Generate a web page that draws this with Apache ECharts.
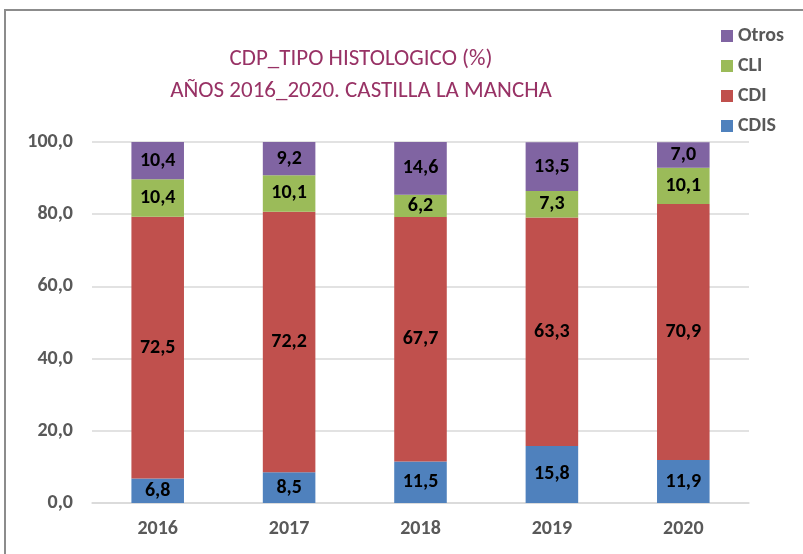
<!DOCTYPE html>
<html>
<head>
<meta charset="utf-8">
<script src="https://cdn.jsdelivr.net/npm/echarts@6/dist/echarts.min.js"></script>
<style>
  html, body { margin: 0; padding: 0; background: #fff; }
  #chart { width: 803px; height: 554px; }
</style>
</head>
<body>
<div id="chart"></div>
<script>
const years = ['2016', '2017', '2018', '2019', '2020']
const cdis = [6.8, 8.5, 11.5, 15.8, 11.9]
const cdi = [72.5, 72.2, 67.7, 63.3, 70.9]
const cli = [10.4, 10.1, 6.2, 7.3, 10.1]
const otros = [10.4, 9.2, 14.6, 13.5, 7.0]

const font = 'Calibri, Carlito, Lato, "Open Sans", sans-serif'
const fmt = v => Number(v).toFixed(1).replace('.', ',')

function bar(name, data, color) {
  return {
    name: name,
    type: 'bar',
    stack: 'total',
    data: data,
    barWidth: '40%',
    itemStyle: { color: color },
    label: {
      show: true,
      position: 'inside',
      color: '#000',
      fontWeight: 'bold',
      fontSize: 20,
      fontFamily: font,
      formatter: p => fmt(p.value)
    }
  }
}

const chart = echarts.init(document.getElementById('chart'))
chart.setOption({
  animation: false,
  title: {
    text: 'CDP_TIPO HISTOLOGICO (%)\nAÑOS 2016_2020. CASTILLA LA MANCHA',
    left: 356,
    top: 38,
    textAlign: 'center',
    textStyle: {
      color: '#983265',
      fontSize: 23,
      fontWeight: 'normal',
      fontFamily: font,
      lineHeight: 32
    }
  },
  legend: {
    orient: 'vertical',
    left: 716,
    top: 19,
    itemWidth: 12,
    itemHeight: 12,
    itemGap: 6,
    icon: 'rect',
    data: ['Otros', 'CLI', 'CDI', 'CDIS'],
    textStyle: { color: '#595959', fontSize: 20, fontWeight: 'bold', fontFamily: font, lineHeight: 24 }
  },
  graphic: [{
    type: 'rect',
    shape: { x: 5, y: 10, width: 830, height: 580 },
    style: { fill: null, stroke: '#8c8c8c', lineWidth: 2 },
    silent: true
  }],
  grid: { left: 92, right: 54, top: 142, bottom: 51 },
  xAxis: {
    type: 'category',
    data: years,
    axisTick: { show: false },
    axisLine: { lineStyle: { color: '#d9d9d9', width: 1.5 } },
    axisLabel: { color: '#595959', fontSize: 20, fontWeight: 'bold', fontFamily: font, margin: 16 }
  },
  yAxis: {
    type: 'value',
    min: 0,
    max: 100,
    interval: 20,
    axisLine: { show: false },
    axisTick: { show: false },
    splitLine: { lineStyle: { color: '#d9d9d9', width: 1.5 } },
    axisLabel: { color: '#595959', fontSize: 20, fontWeight: 'bold', fontFamily: font, margin: 19, formatter: fmt }
  },
  series: [
    bar('CDIS', cdis, '#4f81bd'),
    bar('CDI', cdi, '#c0504d'),
    bar('CLI', cli, '#9bbb59'),
    bar('Otros', otros, '#8064a2')
  ]
})
</script>
</body>
</html>
